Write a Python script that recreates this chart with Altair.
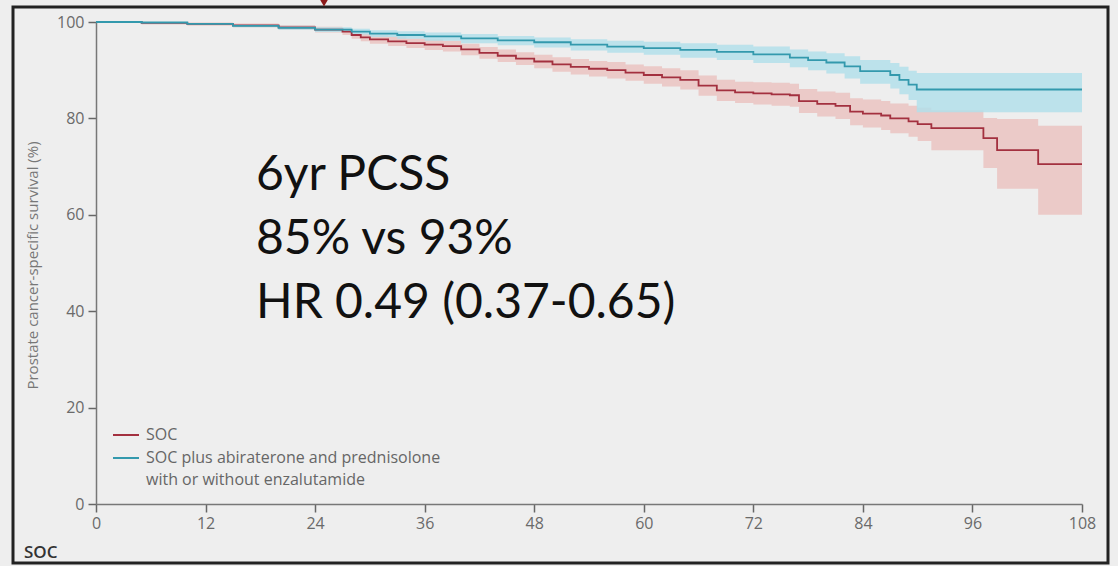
import altair as alt
import pandas as pd

# Kaplan-Meier estimates (months, survival %) with 95% confidence limits
soc_t = [0, 5, 10, 15, 20, 24, 27, 28, 29, 30, 32, 34, 36, 38, 40, 42, 44, 46, 48, 50,
         52, 54, 56, 58, 60, 62, 64, 66, 68, 70, 72, 74, 76, 77, 79, 81, 82.6, 84, 86, 87,
         89, 90, 91.5, 97.2, 98.7, 103.2, 108]
soc_s = [100, 99.8, 99.6, 99.3, 98.9, 98.4, 98.0, 97.3, 96.8, 96.4, 96.0, 95.6, 95.3, 95.0, 94.3,
         93.6, 93.0, 92.4, 91.8, 91.2, 90.7, 90.3, 90.0, 89.5, 89.0, 88.5, 88.0, 86.8, 85.8, 85.4,
         85.2, 85.0, 84.8, 83.6, 83.0, 82.6, 81.4, 81.0, 80.6, 80.0, 79.4, 78.8, 78.0, 75.9, 73.4,
         70.5, 70.5]
soc_lo = [100, 99.5, 99.2, 98.9, 98.4, 97.8, 97.3, 96.5, 96.0, 95.5, 95.0, 94.6, 94.2, 93.9, 93.1,
          92.4, 91.7, 91.1, 90.4, 89.7, 89.1, 88.7, 88.3, 87.8, 87.2, 86.6, 86.0, 84.7, 83.6, 83.2,
          82.9, 82.6, 82.4, 81.1, 80.4, 79.9, 78.6, 78.1, 77.6, 76.9, 76.2, 75.3, 73.4, 69.7, 65.4,
          60.0, 60.0]
soc_hi = [100, 100, 99.9, 99.7, 99.4, 99.0, 98.7, 98.0, 97.6, 97.3, 97.0, 96.6, 96.4, 96.1, 95.5,
          94.8, 94.3, 93.7, 93.2, 92.7, 92.3, 91.9, 91.7, 91.2, 90.8, 90.4, 90.0, 88.9, 88.0, 87.6,
          87.5, 87.4, 87.2, 86.1, 85.6, 85.3, 84.2, 83.9, 83.6, 83.1, 82.6, 82.2, 81.7, 80.1, 79.9,
          78.5, 78.5]

abi_t = [0, 5, 10, 15, 20, 24, 28, 30, 33, 36, 40, 44, 48, 52, 56, 60, 64, 68, 72, 76,
         78, 80, 82, 83.7, 87, 88, 89, 89.9, 108]
abi_s = [100, 99.9, 99.6, 99.2, 98.8, 98.4, 98.0, 97.6, 97.3, 97.0, 96.6, 96.2, 95.8, 95.3, 94.9,
         94.6, 94.2, 93.8, 93.3, 92.6, 92.1, 91.6, 90.8, 89.8, 89.0, 88.0, 87.0, 86.0, 86.0]
abi_lo = [100, 99.7, 99.4, 98.9, 98.4, 97.9, 97.4, 96.9, 96.5, 96.1, 95.6, 95.2, 94.7, 94.1, 93.6,
          93.2, 92.6, 92.1, 91.5, 90.6, 90.0, 89.3, 88.3, 87.2, 86.2, 85.0, 83.8, 81.3, 81.3]
abi_hi = [100, 100, 99.8, 99.5, 99.2, 98.9, 98.6, 98.3, 98.1, 97.8, 97.5, 97.1, 96.8, 96.4, 96.1,
          95.9, 95.6, 95.3, 94.9, 94.3, 93.9, 93.5, 92.9, 92.1, 91.5, 90.7, 89.9, 89.4, 89.4]

x_ticks = [0, 12, 24, 36, 48, 60, 72, 84, 96, 108]
y_ticks = [0, 20, 40, 60, 80, 100]

legend_labels = ["SOC", "SOC plus abiraterone and prednisolone", "with or without enzalutamide"]
summary_lines = ["6yr PCSS", "85% vs 93%", "HR 0.49 (0.37-0.65)"]

soc_df = pd.DataFrame({"t": soc_t, "s": soc_s, "lo": soc_lo, "hi": soc_hi, "arm": "SOC"})
abi_df = pd.DataFrame({"t": abi_t, "s": abi_s, "lo": abi_lo, "hi": abi_hi, "arm": "ABI"})

RED, RED_BAND = "#a3303f", "#eac3c1"
BLUE, BLUE_BAND = "#3399ad", "#b3dfea"
FONT = "Open Sans"

x_enc = alt.X("t:Q", scale=alt.Scale(domain=[0, 108], nice=False),
              axis=alt.Axis(values=x_ticks, title=None, labelFlush=False))
y_scale = alt.Scale(domain=[0, 100], nice=False)


def band(df, color):
    return alt.Chart(df).mark_area(interpolate="step-after", color=color, opacity=0.85).encode(
        x=x_enc,
        y=alt.Y("lo:Q", scale=y_scale,
                axis=alt.Axis(values=y_ticks, title="Prostate cancer-specific survival (%)")),
        y2="hi:Q",
    )


def curve(df, color):
    return alt.Chart(df).mark_line(interpolate="step-after", color=color, strokeWidth=1.8).encode(
        x=x_enc, y=alt.Y("s:Q", scale=y_scale)
    )


one = pd.DataFrame({"k": [0]})

legend_red = alt.Chart(one).mark_rule(color=RED, strokeWidth=2).encode(
    x=alt.value(17), x2=alt.value(43), y=alt.value(413))
legend_blue = alt.Chart(one).mark_rule(color=BLUE, strokeWidth=2).encode(
    x=alt.value(17), x2=alt.value(43), y=alt.value(436))
legend_text = alt.Chart(pd.DataFrame({"label": legend_labels, "py": [413, 436, 458]})).mark_text(
    align="left", baseline="middle", font=FONT, fontSize=16, color="#666"
).encode(x=alt.value(50), y=alt.Y("py:Q", scale=None), text="label:N")

summary = alt.Chart(pd.DataFrame({"line": summary_lines, "py": [168, 232, 296]})).mark_text(
    align="left", baseline="alphabetic", font="Lato", fontSize=48, color="#111"
).encode(x=alt.value(160), y=alt.Y("py:Q", scale=None), text="line:N")

frame = alt.Chart(one).mark_rect(filled=False, stroke="#222", strokeWidth=3).encode(
    x=alt.value(-83), x2=alt.value(1012), y=alt.value(-15), y2=alt.value(541))

row_label = alt.Chart(one).mark_text(
    align="left", baseline="middle", font=FONT, fontSize=17, fontWeight=600, color="#333", text="SOC"
).encode(x=alt.value(-72), y=alt.value(531))

arrow = alt.Chart(one).mark_point(shape="triangle-down", filled=True, color="#8b1a1a", size=110,
                                   opacity=1).encode(x=alt.value(228), y=alt.value(-20))

chart = alt.layer(
    band(soc_df, RED_BAND), band(abi_df, BLUE_BAND),
    curve(soc_df, RED), curve(abi_df, BLUE),
    legend_red, legend_blue, legend_text, summary, frame, row_label, arrow,
).properties(
    width=986, height=482, autosize="none",
    padding={"left": 96, "top": 22, "right": 36, "bottom": 62},
    background="#eeeeee",
).configure_view(stroke=None).configure_axis(
    grid=False, domainColor="#777", domainWidth=1.5, tickColor="#666", tickWidth=1.5, tickSize=8,
    labelFont=FONT, labelFontSize=16, labelColor="#6a6a6a",
).configure_axisX(labelPadding=3).configure_axisY(
    labelPadding=4, titleFont=FONT, titleFontSize=15, titleColor="#777", titleFontWeight="normal",
    titleX=-64, titleY=243, titleAngle=270, titleAlign="center", titleBaseline="middle",
)

chart.save("out.html", embed_options={"renderer": "svg", "actions": False})
